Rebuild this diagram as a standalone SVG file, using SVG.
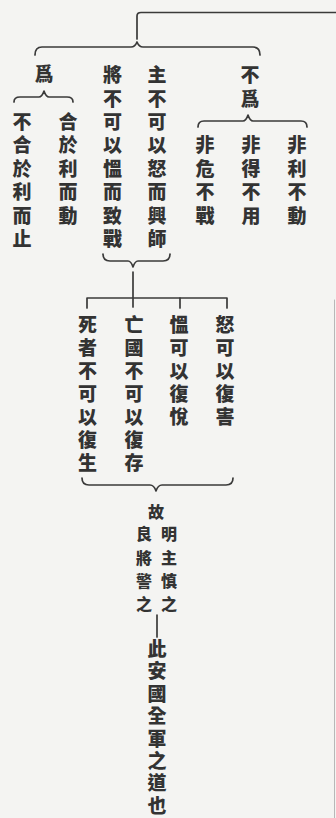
<svg xmlns="http://www.w3.org/2000/svg" width="336" height="818" viewBox="0 0 336 818">
<style>
.t{font-family:"Noto Sans CJK TC","Noto Sans CJK SC",sans-serif;font-weight:900;font-size:19px;fill:#333333;text-anchor:middle}
.s{font-size:16px}
.c{fill:none;stroke:#3a3a3a;stroke-width:1.7;stroke-linecap:round;stroke-linejoin:round}
</style>
<rect width="336" height="818" fill="#f4f4f2"/>
<g id="connectors" class="c">
<path d="M336,12.5 H141 Q137,12.5 137,16 V39"/>
<path d="M35,55 Q35,47 42,47 H131 Q135,47 137,42 Q139,47 143,47 H253 Q260,47 260,55"/>
<path d="M14,102 Q14,97 20,97 H39 Q42,97 44,91 Q46,97 49,97 H67 Q73,97 73,102"/>
<path d="M198,127 Q198,121 204,121 H243 Q246,121 248,115 Q250,121 253,121 H301 Q307,121 307,127"/>
<path d="M103,254 Q103,261 110,261 H128 Q131,261 133,267 Q135,261 138,261 H163 Q170,261 170,254"/>
<path d="M133,272 V307"/>
<path d="M87,308 V298 H227 V308"/>
<path d="M180,298 V308"/>
<path d="M82,478 Q82,485 89,485 H150 Q154,485 156,491 Q158,485 162,485 H226 Q233,485 233,478"/>
<path d="M157,615 V637"/>
<path d="M334.5,300 V818" stroke="#b8b8b8" stroke-width="1"/>
</g>
<g id="wei"><text class="t" x="44" y="81.2">爲</text></g>
<g id="buhe"><text class="t" x="22 22 22 22 22 22" y="129 152.4 175.8 199.2 222.6 246">不合於利而止</text></g>
<g id="he"><text class="t" x="68 68 68 68 68" y="129 152.4 175.8 199.2 222.6">合於利而動</text></g>
<g id="jiang"><text class="t" x="112.5 112.5 112.5 112.5 112.5 112.5 112.5 112.5" y="82.2 105.6 129 152.4 175.8 199.2 222.6 246">將不可以慍而致戰</text></g>
<g id="zhu"><text class="t" x="157 157 157 157 157 157 157 157" y="82.2 105.6 129 152.4 175.8 199.2 222.6 246">主不可以怒而興師</text></g>
<g id="buwei"><text class="t" x="250 250" y="82.2 105.6">不爲</text></g>
<g id="feiwei"><text class="t" x="205 205 205 205" y="152.4 175.8 199.2 222.6">非危不戰</text></g>
<g id="feide"><text class="t" x="251 251 251 251" y="152.4 175.8 199.2 222.6">非得不用</text></g>
<g id="feili"><text class="t" x="297 297 297 297" y="152.4 175.8 199.2 222.6">非利不動</text></g>
<g id="sizhe"><text class="t" x="87.5 87.5 87.5 87.5 87.5 87.5 87.5" y="332.2 355.2 378.2 401.2 424.2 447.2 470.2">死者不可以復生</text></g>
<g id="wangguo"><text class="t" x="134 134 134 134 134 134 134" y="332.2 355.2 378.2 401.2 424.2 447.2 470.2">亡國不可以復存</text></g>
<g id="yun"><text class="t" x="179 179 179 179 179" y="332.2 355.2 378.2 401.2 424.2">慍可以復悅</text></g>
<g id="nu"><text class="t" x="225 225 225 225 225" y="332.2 355.2 378.2 401.2 424.2">怒可以復害</text></g>
<g id="gu"><text class="t s" x="156" y="518">故</text><text class="t s" x="144 144 144 144" y="540 563.5 587 610">良將警之</text><text class="t s" x="169 169 169 169" y="540 563.5 587 610">明主慎之</text></g>
<g id="ci"><text class="t" x="157 157 157 157 157 157 157 157" y="656 678.4 700.8 723.2 745.6 768 790.4 812.8">此安國全軍之道也</text></g>
</svg>
